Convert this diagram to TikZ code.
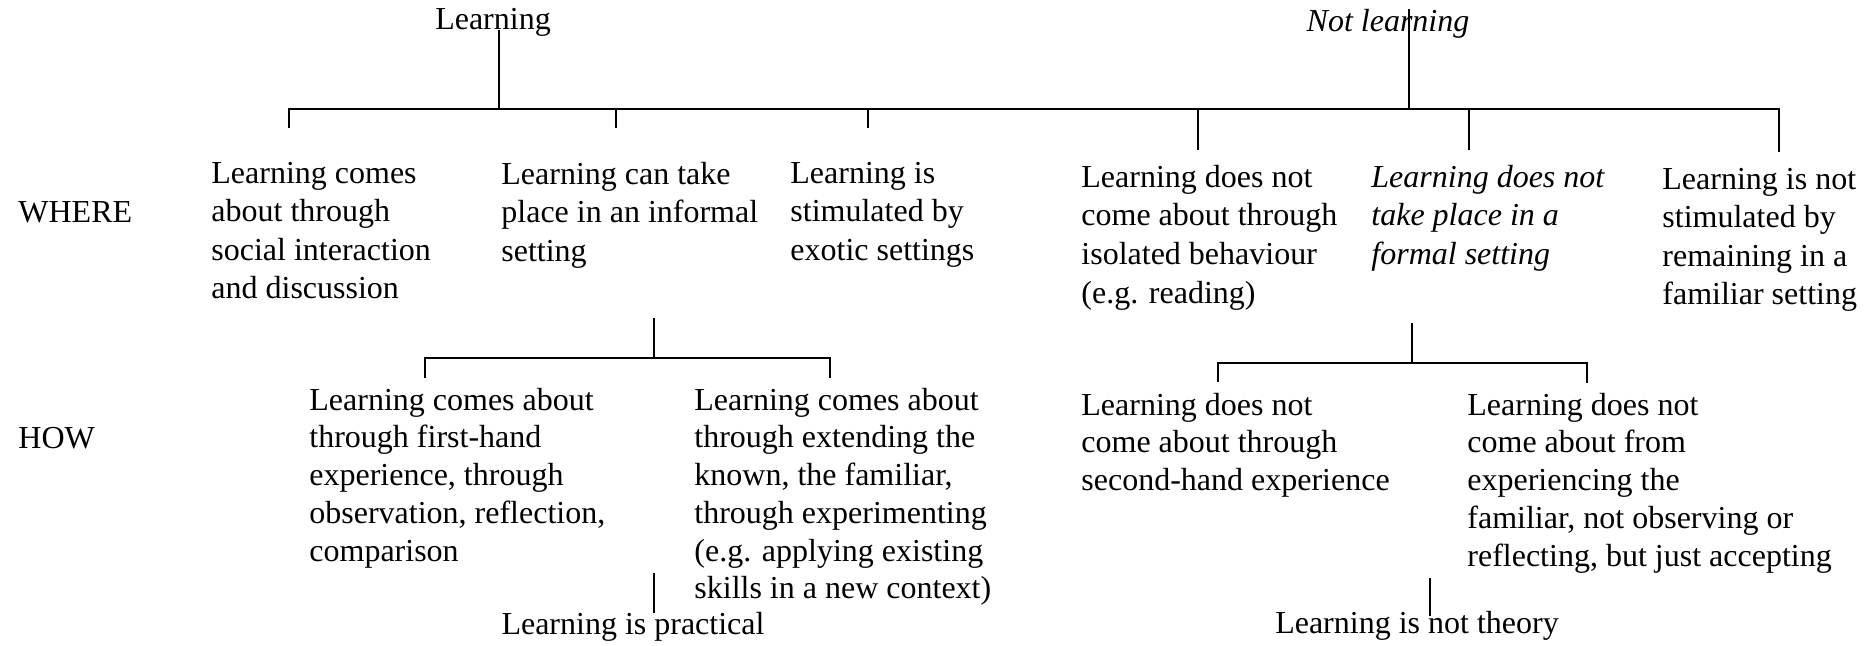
\documentclass[tikz,border=0pt]{standalone}
\usepackage{fontspec}
\setmainfont{Liberation Serif}
\usetikzlibrary{positioning}
\newcommand\tfont{\fontsize{16pt}{18.85pt}\selectfont}
\newcommand\wfont{\fontsize{16pt}{19.3pt}\selectfont}
% txt nodes are placed by the baseline of their first line
\tikzset{txt/.style={anchor=north west,yshift=10.2pt,align=left,inner sep=0pt,font=\tfont,execute at begin node=\strut},
  wtxt/.style={txt,font=\wfont},
  ttl/.style={anchor=base,inner sep=0pt,font=\tfont},
  tree/.style={line width=1.1pt}}

\begin{document}
\begin{tikzpicture}[x=.5pt,y=-.5pt]
\useasboundingbox(0,0)rectangle(1875,646);
% headings
\node[ttl](learn)at(493,30){Learning};
\node[ttl,font=\tfont\itshape](notlearn)at(1388,32){Not learning};
\node[txt](where)at(18,216){WHERE};
\node[txt](how)at(18,442){HOW};
% where row
\node[wtxt](w1)at(211,182){Learning comes\\about through\\social interaction\\and discussion};
\node[wtxt](w2)at(501,182){Learning can take\\place in an informal\\setting};
\node[wtxt](w3)at(790,182){Learning is\\stimulated by\\exotic settings};
\node[wtxt](w4)at(1081,185){Learning does not\\come about through\\isolated behaviour\\(e.g. reading)};
\node[wtxt,font=\wfont\itshape](w5)at(1371,185){Learning does not\\take place in a\\formal setting};
\node[wtxt](w6)at(1662,188){Learning is not\\stimulated by\\remaining in a\\familiar setting};
% how row
\node[txt](h1)at(309,408){Learning comes about\\through first-hand\\experience, through\\observation, reflection,\\comparison};
\node[txt](h2)at(694,408){Learning comes about\\through extending the\\known, the familiar,\\through experimenting\\(e.g. applying existing\\skills in a new context)};
\node[txt](h3)at(1081,413){Learning does not\\come about through\\second-hand experience};
\node[txt](h4)at(1467,413){Learning does not\\come about from\\experiencing the\\familiar, not observing or\\reflecting, but just accepting};
\node[ttl](prac)at(633,634){Learning is practical};
\node[ttl](theory)at(1417,633){Learning is not theory};
% junctions and drop ends
\coordinate(jL)at(499,109);\coordinate(jN)at(1409,109);
\coordinate(d1)at(289,128);\coordinate(d2)at(616,128);\coordinate(d3)at(868,128);
\coordinate(d4)at(1198,150);\coordinate(d5)at(1469,150);\coordinate(d6)at(1779,152);
\coordinate(jP)at(654,358);\coordinate(jT)at(1412,363);
\coordinate(e1)at(425,378);\coordinate(e2)at(830,378);
\coordinate(e3)at(1218,382);\coordinate(e4)at(1587,383);
% top tree
\draw[tree](jL|-learn.base)--(jL);
\draw[tree](jN|-notlearn.north)--(jN);
\draw[tree](d1)--(d1|-jL)--(d6|-jL)--(d6);
\foreach \d in {d2,d3,d4,d5}\draw[tree](\d)--(\d|-jL);
% how trees
\draw[tree](654,318)--(jP);\draw[tree](e1)--(e1|-jP)--(e2|-jP)--(e2);
\draw[tree](1412,323)--(jT);\draw[tree](e3)--(e3|-jT)--(e4|-jT)--(e4);
\draw[tree](654,573)--(654,613);\draw[tree](1430,578)--(1430,616);
\end{tikzpicture}
\end{document}
